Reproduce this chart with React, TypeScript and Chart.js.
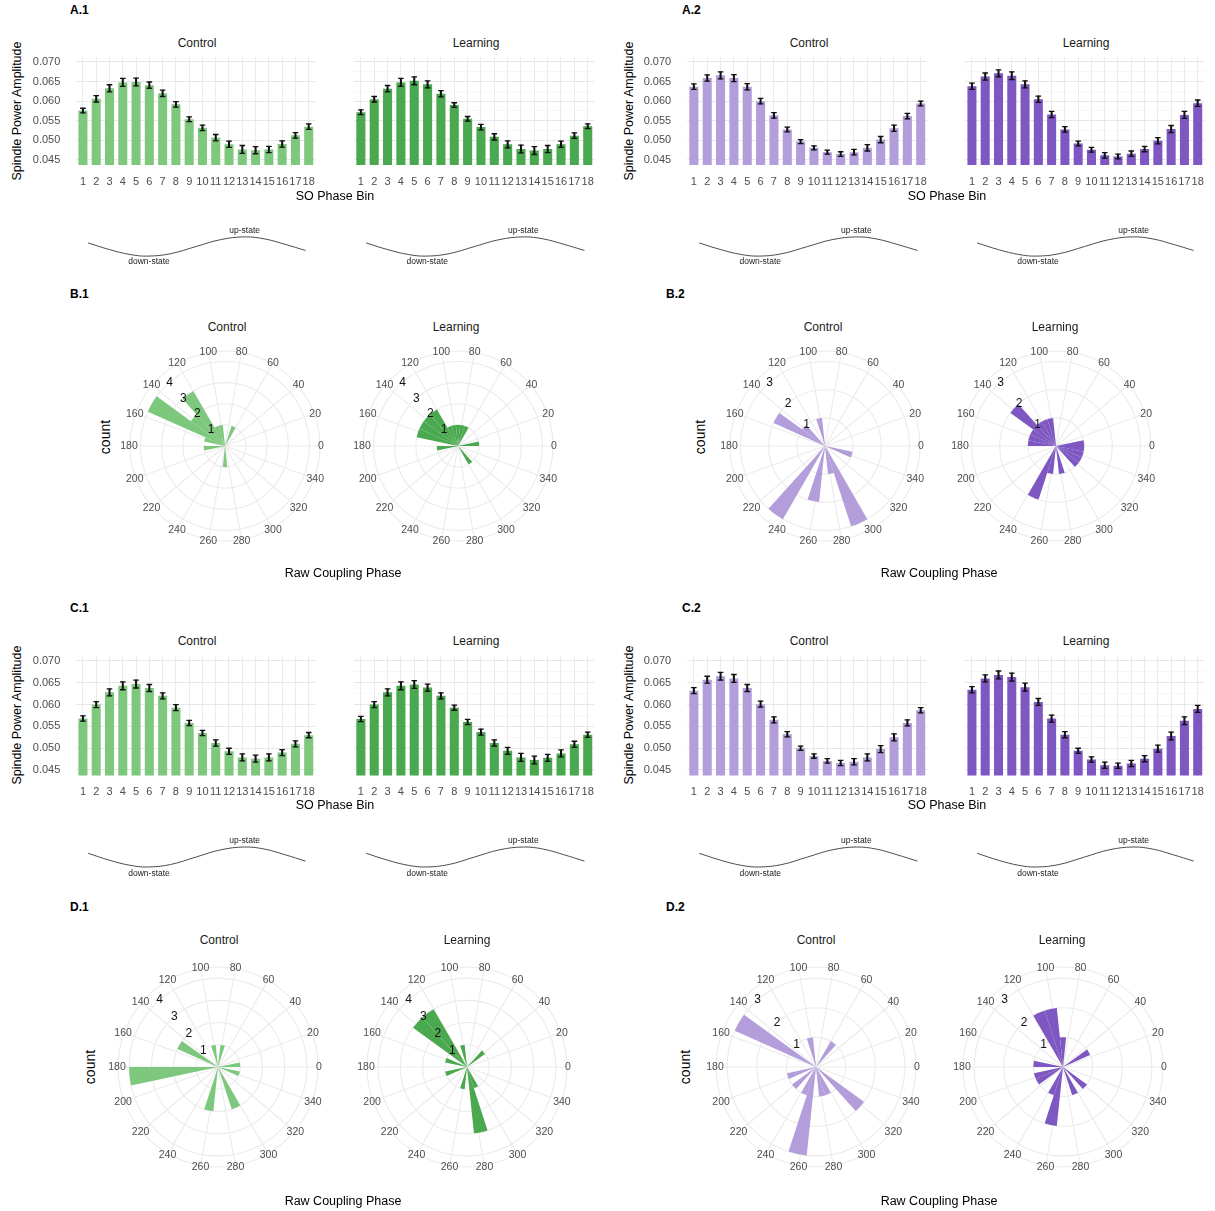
import React, { useEffect, useRef } from 'react';
import { Chart, registerables } from 'chart.js';

Chart.register(...registerables);

const FONT = '"Liberation Sans", Arial, Helvetica, sans-serif';

// ---------------- data ----------------
const phaseBins = ['1', '2', '3', '4', '5', '6', '7', '8', '9', '10', '11', '12', '13', '14', '15', '16', '17', '18'];
const ampTicks = [0.045, 0.05, 0.055, 0.06, 0.065, 0.07];

const a1Control = [0.0576, 0.0606, 0.0633, 0.0648, 0.0649, 0.0641, 0.0620, 0.0592, 0.0554, 0.0532, 0.0507, 0.0490, 0.0477, 0.0475, 0.0477, 0.0491, 0.0513, 0.0535];
const a1ControlErr = [0.0006, 0.0008, 0.0009, 0.0010, 0.0010, 0.0008, 0.0008, 0.0007, 0.0006, 0.0007, 0.0008, 0.0008, 0.0010, 0.0009, 0.0008, 0.0008, 0.0007, 0.0007];
const a1Learning = [0.0572, 0.0605, 0.0632, 0.0648, 0.0652, 0.0643, 0.0619, 0.0590, 0.0555, 0.0534, 0.0509, 0.0490, 0.0478, 0.0474, 0.0478, 0.0490, 0.0512, 0.0536];
const a1LearningErr = [0.0006, 0.0007, 0.0008, 0.0010, 0.0010, 0.0009, 0.0008, 0.0006, 0.0006, 0.0007, 0.0008, 0.0009, 0.0010, 0.0010, 0.0009, 0.0008, 0.0007, 0.0006];
const a2Control = [0.0637, 0.0659, 0.0666, 0.0659, 0.0637, 0.0600, 0.0564, 0.0528, 0.0497, 0.0481, 0.0470, 0.0465, 0.0470, 0.0481, 0.0502, 0.0531, 0.0562, 0.0594];
const a2ControlErr = [0.0007, 0.0008, 0.0009, 0.0009, 0.0008, 0.0007, 0.0007, 0.0006, 0.0005, 0.0005, 0.0005, 0.0006, 0.0007, 0.0008, 0.0008, 0.0008, 0.0007, 0.0006];
const a2Learning = [0.0638, 0.0663, 0.0671, 0.0665, 0.0643, 0.0605, 0.0566, 0.0528, 0.0492, 0.0476, 0.0462, 0.0459, 0.0466, 0.0478, 0.0499, 0.0529, 0.0565, 0.0595];
const a2LearningErr = [0.0008, 0.0009, 0.0009, 0.0010, 0.0009, 0.0008, 0.0008, 0.0007, 0.0006, 0.0006, 0.0007, 0.0006, 0.0007, 0.0007, 0.0008, 0.0009, 0.0009, 0.0008];

const c1Control = [0.0568, 0.0600, 0.0628, 0.0643, 0.0647, 0.0638, 0.0620, 0.0593, 0.0558, 0.0535, 0.0512, 0.0493, 0.0479, 0.0476, 0.0479, 0.0490, 0.0510, 0.0530];
const c1ControlErr = [0.0006, 0.0007, 0.0008, 0.0009, 0.0009, 0.0008, 0.0007, 0.0007, 0.0006, 0.0006, 0.0007, 0.0007, 0.0008, 0.0008, 0.0008, 0.0007, 0.0007, 0.0006];
const c1Learning = [0.0567, 0.0600, 0.0628, 0.0643, 0.0646, 0.0639, 0.0620, 0.0593, 0.0560, 0.0537, 0.0512, 0.0494, 0.0479, 0.0473, 0.0478, 0.0488, 0.0509, 0.0531];
const c1LearningErr = [0.0006, 0.0007, 0.0008, 0.0009, 0.0009, 0.0008, 0.0007, 0.0006, 0.0006, 0.0007, 0.0007, 0.0008, 0.0009, 0.0009, 0.0008, 0.0008, 0.0007, 0.0006];
const c2Control = [0.0632, 0.0657, 0.0665, 0.0660, 0.0638, 0.0601, 0.0565, 0.0532, 0.0500, 0.0482, 0.0471, 0.0466, 0.0469, 0.0479, 0.0498, 0.0525, 0.0558, 0.0587];
const c2ControlErr = [0.0007, 0.0008, 0.0009, 0.0009, 0.0008, 0.0007, 0.0007, 0.0006, 0.0005, 0.0005, 0.0005, 0.0006, 0.0007, 0.0008, 0.0008, 0.0008, 0.0007, 0.0006];
const c2Learning = [0.0634, 0.0660, 0.0668, 0.0663, 0.0640, 0.0606, 0.0568, 0.0531, 0.0494, 0.0474, 0.0461, 0.0460, 0.0465, 0.0476, 0.0499, 0.0528, 0.0563, 0.0590];
const c2LearningErr = [0.0007, 0.0008, 0.0009, 0.0009, 0.0009, 0.0008, 0.0008, 0.0007, 0.0006, 0.0006, 0.0007, 0.0006, 0.0007, 0.0007, 0.0008, 0.0009, 0.0009, 0.0008];

// SO wave sketch: position in phase-bin units, relative level
const waveBin = [1.4, 3.0, 4.5, 5.8, 7.5, 9.4, 11.2, 13.0, 14.5, 16.0, 17.5];
const waveLevel = [0.37, -0.33, -0.83, -1, -0.75, 0, 0.71, 1, 0.78, 0.22, -0.41];

// Rose histograms: 12-degree bins starting at these angles
const roseBinStarts = [0, 12, 24, 36, 48, 60, 72, 84, 96, 108, 120, 132, 144, 156, 168, 180, 192, 204, 216, 228, 240, 252, 264, 276, 288, 300, 312, 324, 336, 348];
const angleTicks = [0, 20, 40, 60, 80, 100, 120, 140, 160, 180, 200, 220, 240, 260, 280, 300, 320, 340];

const b1Control = [0, 0, 0, 0, 0, 1, 0, 0, 1, 1, 3, 2, 4, 1, 0, 1, 0, 0, 0, 0, 0, 0, 1, 0, 0, 0, 0, 0, 0, 0];
const b1Learning = [1, 0, 0, 0, 0, 1, 1, 1, 1, 1, 2, 2, 2, 2, 0, 1, 0, 0, 0, 0, 0, 0, 0, 0, 0, 1, 0, 0, 0, 0];
const b2Control = [0, 0, 0, 0, 0, 0, 0, 0, 1, 0, 0, 1, 2, 0, 0, 0, 0, 0, 0, 3, 0, 2, 0, 1, 3, 0, 0, 0, 1, 0];
const b2Learning = [1, 0, 0, 0, 0, 0, 0, 0, 1, 1, 1, 2, 1, 1, 1, 0, 0, 0, 0, 0, 2, 1, 0, 1, 0, 0, 1, 1, 1, 1];
const d1Control = [1, 0, 0, 0, 0, 0, 1, 0, 1, 0, 0, 0, 2, 0, 0, 4, 0, 0, 0, 0, 0, 2, 0, 0, 2, 0, 0, 0, 1, 0];
const d1Learning = [0, 0, 0, 1, 0, 0, 0, 0, 1, 0, 3, 3, 0, 1, 0, 0, 1, 0, 0, 0, 0, 1, 0, 3, 1, 0, 0, 0, 0, 0];
const d2Control = [0, 0, 0, 0, 1, 0, 0, 0, 1, 0, 0, 0, 3, 0, 0, 0, 1, 0, 1, 0, 1, 3, 0, 1, 1, 0, 2, 0, 0, 0];
const d2Learning = [0, 0, 1, 0, 0, 0, 0, 1, 2, 2, 0, 0, 0, 0, 1, 0, 1, 1, 0, 0, 1, 2, 0, 0, 1, 0, 1, 0, 0, 0];

// ---------------- colours ----------------
const GREEN_C = '#7ec87e';
const GREEN_L = '#4aa94f';
const PURPLE_C = '#b39ddb';
const PURPLE_L = '#7e57c2';

const GRID = '#ebebeb';
const TICK = '#4d4d4d';

type Area = { l: number; t: number; r: number; b: number };

const isMajor = (v: number) => ampTicks.some((t) => Math.abs(t - v) < 1e-9);

function BarPanel({ values, errors, color, area, showY }: { values: number[]; errors: number[]; color: string; area: Area; showY: boolean }) {
  const ref = useRef<HTMLCanvasElement>(null);
  const cl = Math.floor(area.l - 62);
  const ct = Math.floor(area.t - 28);
  const cr = Math.ceil(area.r + 6);
  const cb = Math.ceil(area.b + 30);
  useEffect(() => {
    const grid: number[] = [];
    ampTicks.forEach((t, i) => {
      grid.push(t);
      if (i < ampTicks.length - 1) grid.push(t + 0.0025);
    });
    const yW = area.l - cl;
    const xH = cb - area.b;
    const chart = new Chart(ref.current as HTMLCanvasElement, {
      type: 'bar',
      data: {
        labels: phaseBins,
        datasets: [
          { type: 'bar', data: values, backgroundColor: color, barPercentage: 0.68, categoryPercentage: 1, grouped: false, order: 3 } as any,
          { type: 'bar', data: values.map((v, i) => [v - errors[i], v + errors[i]]), backgroundColor: '#111', barThickness: 1.4, grouped: false, order: 2 } as any,
          { type: 'line', data: values.map((v, i) => v + errors[i]), showLine: false, pointStyle: 'line', pointRadius: 2.8, pointBorderColor: '#111', pointBorderWidth: 1.3, order: 1 } as any,
          { type: 'line', data: values.map((v, i) => v - errors[i]), showLine: false, pointStyle: 'line', pointRadius: 2.8, pointBorderColor: '#111', pointBorderWidth: 1.3, order: 0 } as any,
        ],
      },
      options: {
        responsive: false,
        animation: false,
        events: [],
        layout: { padding: { left: 0, top: area.t - ct, right: cr - area.r, bottom: 0 } },
        plugins: { legend: { display: false }, tooltip: { enabled: false } },
        scales: {
          x: {
            type: 'category',
            offset: true,
            grid: { offset: false, color: GRID, lineWidth: 1.1, drawTicks: false },
            border: { display: false },
            ticks: { font: { family: FONT, size: 11 }, color: TICK, padding: 10, maxRotation: 0, autoSkip: false },
            afterFit: (s: any) => { s.height = xH; },
          },
          y: {
            min: 0.04375,
            max: 0.07125,
            afterBuildTicks: (s: any) => { s.ticks = grid.map((v) => ({ value: v })); },
            ticks: {
              display: showY,
              font: { family: FONT, size: 11 },
              color: TICK,
              padding: 16,
              callback: (v: any) => (isMajor(Number(v)) ? Number(v).toFixed(3) : ''),
            },
            grid: {
              color: (c: any) => (isMajor(c.tick?.value) ? '#e6e6e6' : '#f2f2f2'),
              lineWidth: (c: any) => (isMajor(c.tick?.value) ? 1.1 : 0.6),
              drawTicks: false,
            },
            border: { display: false },
            afterFit: (s: any) => { s.width = yW; },
          },
        },
      } as any,
    });
    return () => chart.destroy();
  }, []);
  return <canvas ref={ref} width={cr - cl} height={cb - ct} style={{ position: 'absolute', left: cl, top: ct, width: cr - cl, height: cb - ct }} />;
}

function Wave({ l, r, center, amp }: { l: number; r: number; center: number; amp: number }) {
  const ref = useRef<HTMLCanvasElement>(null);
  const yR = 1.3;
  const h = Math.round(2 * amp * yR);
  const top = Math.round(center - h / 2);
  const left = Math.round(l);
  const w = Math.round(r - l);
  useEffect(() => {
    const chart = new Chart(ref.current as HTMLCanvasElement, {
      type: 'line',
      data: {
        datasets: [
          { data: waveBin.map((x, i) => ({ x, y: waveLevel[i] })), borderColor: '#3a3a3a', borderWidth: 0.9, pointRadius: 0, tension: 0.4, fill: false },
        ],
      },
      options: {
        responsive: false,
        animation: false,
        events: [],
        layout: { padding: 0 },
        plugins: { legend: { display: false }, tooltip: { enabled: false } },
        scales: {
          x: { type: 'linear', min: 0.5, max: 18.5, display: false },
          y: { type: 'linear', min: -yR, max: yR, display: false },
        },
      } as any,
    });
    return () => chart.destroy();
  }, []);
  return <canvas ref={ref} width={w} height={h} style={{ position: 'absolute', left, top, width: w, height: h }} />;
}

function rosePlugin(maxCount: number) {
  return {
    id: 'roseDecor',
    beforeDatasetsDraw(chart: any) {
      const s = chart.scales.r;
      const ctx = chart.ctx;
      ctx.save();
      ctx.strokeStyle = GRID;
      ctx.lineWidth = 1.1;
      angleTicks.forEach((a) => {
        const t = (a * Math.PI) / 180;
        ctx.beginPath();
        ctx.moveTo(s.xCenter, s.yCenter);
        ctx.lineTo(s.xCenter + s.drawingArea * Math.cos(t), s.yCenter - s.drawingArea * Math.sin(t));
        ctx.stroke();
      });
      ctx.restore();
    },
    afterDatasetsDraw(chart: any) {
      const s = chart.scales.r;
      const ctx = chart.ctx;
      ctx.save();
      ctx.textAlign = 'center';
      ctx.textBaseline = 'middle';
      ctx.font = `10.5px ${FONT}`;
      ctx.fillStyle = TICK;
      angleTicks.forEach((a) => {
        const t = (a * Math.PI) / 180;
        const R = s.drawingArea + 1;
        ctx.fillText(String(a), s.xCenter + R * Math.cos(t), s.yCenter - R * Math.sin(t) + 0.5);
      });
      ctx.font = `12px ${FONT}`;
      ctx.fillStyle = '#111';
      const la = (131 * Math.PI) / 180;
      for (let k = 1; k <= maxCount; k++) {
        const d = s.getDistanceFromCenterForValue(k);
        ctx.fillText(String(k), s.xCenter + d * Math.cos(la), s.yCenter - d * Math.sin(la));
      }
      ctx.restore();
    },
  };
}

function RosePanel({ counts, color, cx, cy, R, maxCount }: { counts: number[]; color: string; cx: number; cy: number; R: number; maxCount: number }) {
  const ref = useRef<HTMLCanvasElement>(null);
  const P = 34;
  const size = 2 * R + 2 * P;
  useEffect(() => {
    const chart = new Chart(ref.current as HTMLCanvasElement, {
      type: 'polarArea',
      data: {
        labels: roseBinStarts.slice().reverse().map(String),
        datasets: [{ data: counts.slice().reverse(), backgroundColor: color, borderWidth: 0 }],
      },
      options: {
        responsive: false,
        animation: false,
        events: [],
        layout: { padding: P },
        plugins: { legend: { display: false }, tooltip: { enabled: false } },
        scales: {
          r: {
            min: 0,
            max: maxCount * 1.125,
            startAngle: 90,
            ticks: { display: false, stepSize: 1 },
            grid: { circular: true, color: GRID, lineWidth: 1.1 },
            angleLines: { display: false },
            pointLabels: { display: false },
          },
        },
      } as any,
      plugins: [rosePlugin(maxCount) as any],
    });
    return () => chart.destroy();
  }, []);
  return <canvas ref={ref} width={size} height={size} style={{ position: 'absolute', left: cx - R - P, top: cy - R - P, width: size, height: size }} />;
}

function T({ x, y, text, size = 12, bold = false, color = '#1a1a1a', anchor = 'middle', rotate = false }: { x: number; y: number; text: string; size?: number; bold?: boolean; color?: string; anchor?: 'middle' | 'start'; rotate?: boolean }) {
  const tr = rotate ? 'translate(-50%,-50%) rotate(-90deg)' : anchor === 'middle' ? 'translate(-50%,-50%)' : 'translate(0,-50%)';
  return (
    <div style={{ position: 'absolute', left: x, top: y, transform: tr, fontSize: size, fontWeight: bold ? 700 : 400, color, whiteSpace: 'nowrap', lineHeight: 1, fontFamily: FONT }}>
      {text}
    </div>
  );
}

const colX = {
  c1: [76.3, 318.8],
  l1: [354.2, 597.8],
  c2: [687.2, 930.8],
  l2: [965.3, 1207.7],
};

function BarRow({ t, b, sets }: { t: number; b: number; sets: [number[], number[], number[], number[], number[], number[], number[], number[]] }) {
  return (
    <>
      <BarPanel values={sets[0]} errors={sets[1]} color={GREEN_C} area={{ l: colX.c1[0], r: colX.c1[1], t, b }} showY />
      <BarPanel values={sets[2]} errors={sets[3]} color={GREEN_L} area={{ l: colX.l1[0], r: colX.l1[1], t, b }} showY={false} />
      <BarPanel values={sets[4]} errors={sets[5]} color={PURPLE_C} area={{ l: colX.c2[0], r: colX.c2[1], t, b }} showY />
      <BarPanel values={sets[6]} errors={sets[7]} color={PURPLE_L} area={{ l: colX.l2[0], r: colX.l2[1], t, b }} showY={false} />
    </>
  );
}

function WaveRow({ center, amp, upY, downY }: { center: number; amp: number; upY: number; downY: number }) {
  const cols = [colX.c1, colX.l1, colX.c2, colX.l2];
  return (
    <>
      {cols.map((c, i) => {
        const unit = (c[1] - c[0]) / 18;
        const px = (bin: number) => c[0] + (bin - 0.5) * unit;
        return (
          <React.Fragment key={i}>
            <Wave l={c[0]} r={c[1]} center={center} amp={amp} />
            <T x={px(13.0)} y={upY} text="up-state" size={8.5} color="#222" />
            <T x={px(5.9)} y={downY} text="down-state" size={8.5} color="#222" />
          </React.Fragment>
        );
      })}
    </>
  );
}

export default function App() {
  return (
    <div style={{ position: 'absolute', left: 0, top: 0, width: 1215, height: 1211, background: '#fff', overflow: 'hidden', fontFamily: FONT }}>
      {/* Row A */}
      <T x={70} y={10} text="A.1" bold anchor="start" size={12} color="#000" />
      <T x={682} y={10} text="A.2" bold anchor="start" size={12} color="#000" />
      <T x={197} y={43} text="Control" />
      <T x={476} y={43} text="Learning" />
      <T x={809} y={43} text="Control" />
      <T x={1086} y={43} text="Learning" />
      <T x={17} y={111} text="Spindle Power Amplitude" size={12.5} color="#000" rotate />
      <T x={629} y={111} text="Spindle Power Amplitude" size={12.5} color="#000" rotate />
      <BarRow t={57.1} b={164.9} sets={[a1Control, a1ControlErr, a1Learning, a1LearningErr, a2Control, a2ControlErr, a2Learning, a2LearningErr]} />
      <T x={335} y={196} text="SO Phase Bin" size={12.5} color="#000" />
      <T x={947} y={196} text="SO Phase Bin" size={12.5} color="#000" />
      <WaveRow center={246.5} amp={9.5} upY={230} downY={261} />

      {/* Row B */}
      <T x={70} y={294} text="B.1" bold anchor="start" size={12} color="#000" />
      <T x={666} y={294} text="B.2" bold anchor="start" size={12} color="#000" />
      <T x={227} y={327} text="Control" />
      <T x={456} y={327} text="Learning" />
      <T x={823} y={327} text="Control" />
      <T x={1055} y={327} text="Learning" />
      <T x={105} y={437} text="count" size={14} color="#000" rotate />
      <T x={700} y={437} text="count" size={14} color="#000" rotate />
      <RosePanel counts={b1Control} color={GREEN_C} cx={225} cy={446} R={95} maxCount={4} />
      <RosePanel counts={b1Learning} color={GREEN_L} cx={458} cy={446} R={95} maxCount={4} />
      <RosePanel counts={b2Control} color={PURPLE_C} cx={825} cy={446} R={95} maxCount={3} />
      <RosePanel counts={b2Learning} color={PURPLE_L} cx={1056} cy={446} R={95} maxCount={3} />
      <T x={343} y={573} text="Raw Coupling Phase" size={12.5} color="#000" />
      <T x={939} y={573} text="Raw Coupling Phase" size={12.5} color="#000" />

      {/* Row C */}
      <T x={70} y={608} text="C.1" bold anchor="start" size={12} color="#000" />
      <T x={682} y={608} text="C.2" bold anchor="start" size={12} color="#000" />
      <T x={197} y={641} text="Control" />
      <T x={476} y={641} text="Learning" />
      <T x={809} y={641} text="Control" />
      <T x={1086} y={641} text="Learning" />
      <T x={17} y={715} text="Spindle Power Amplitude" size={12.5} color="#000" rotate />
      <T x={629} y={715} text="Spindle Power Amplitude" size={12.5} color="#000" rotate />
      <BarRow t={655.5} b={775.5} sets={[c1Control, c1ControlErr, c1Learning, c1LearningErr, c2Control, c2ControlErr, c2Learning, c2LearningErr]} />
      <T x={335} y={805} text="SO Phase Bin" size={12.5} color="#000" />
      <T x={947} y={805} text="SO Phase Bin" size={12.5} color="#000" />
      <WaveRow center={856.5} amp={10} upY={840} downY={873} />

      {/* Row D */}
      <T x={70} y={907} text="D.1" bold anchor="start" size={12} color="#000" />
      <T x={666} y={907} text="D.2" bold anchor="start" size={12} color="#000" />
      <T x={219} y={940} text="Control" />
      <T x={467} y={940} text="Learning" />
      <T x={816} y={940} text="Control" />
      <T x={1062} y={940} text="Learning" />
      <T x={90} y={1067} text="count" size={14} color="#000" rotate />
      <T x={685} y={1067} text="count" size={14} color="#000" rotate />
      <RosePanel counts={d1Control} color={GREEN_C} cx={218} cy={1067} R={100} maxCount={4} />
      <RosePanel counts={d1Learning} color={GREEN_L} cx={467} cy={1067} R={100} maxCount={4} />
      <RosePanel counts={d2Control} color={PURPLE_C} cx={816} cy={1067} R={100} maxCount={3} />
      <RosePanel counts={d2Learning} color={PURPLE_L} cx={1063} cy={1067} R={100} maxCount={3} />
      <T x={343} y={1201} text="Raw Coupling Phase" size={12.5} color="#000" />
      <T x={939} y={1201} text="Raw Coupling Phase" size={12.5} color="#000" />
    </div>
  );
}
